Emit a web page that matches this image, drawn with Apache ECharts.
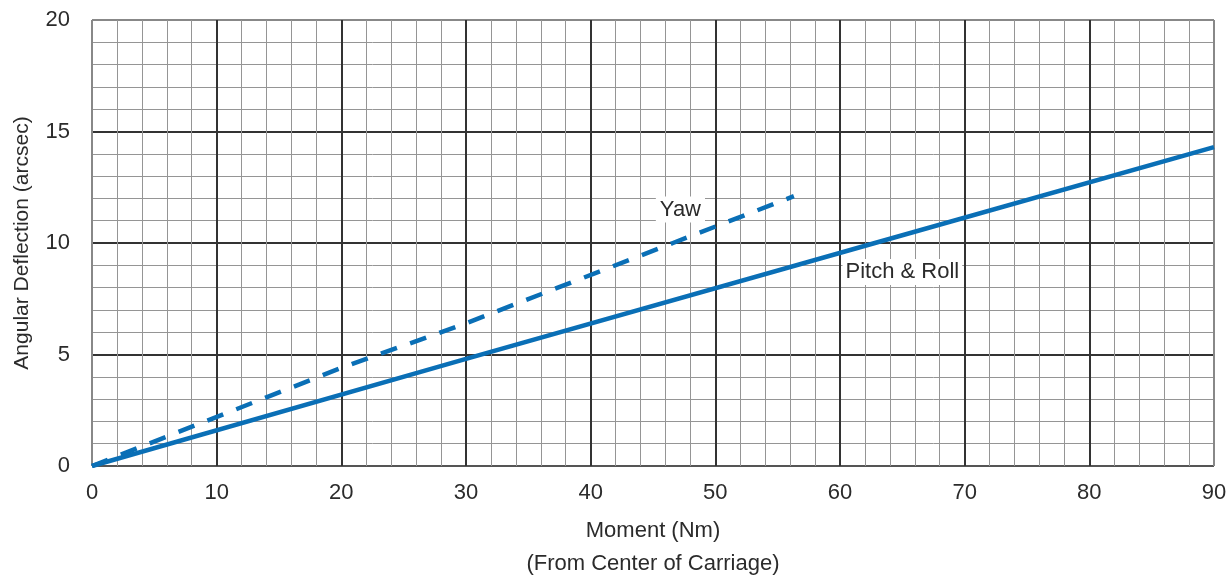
<!DOCTYPE html>
<html>
<head>
<meta charset="utf-8">
<script src="https://cdn.jsdelivr.net/npm/echarts@6/dist/echarts.min.js"></script>
<style>
html,body{margin:0;padding:0;background:#fff;}
#chart{width:1230px;height:581px;}
</style>
</head>
<body>
<div id="chart"></div>
<script>
const xTicks = [0,10,20,30,40,50,60,70,80,90];
const yTicks = [0,5,10,15,20];
const pitchRoll = [[0,0],[30,4.8],[62.8,10],[90,14.3]];
const yaw = [[0,0],[20,4.4],[30,6.4],[46.6,10],[56.3,12.1]];
const yawLabelPos = [47.2,11.5];
const pitchLabelPos = [65,8.7];
const xName = 'Moment (Nm)\n(From Center of Carriage)';
const yName = 'Angular Deflection (arcsec)';

const FONT = "'Liberation Sans Narrow','Arial Narrow','Liberation Sans',Arial,sans-serif";
const BLUE = '#0a6fb6';
const TXT = '#2b2b2b';
const chart = echarts.init(document.getElementById('chart'));
chart.setOption({
  animation:false,
  grid:{left:92,right:16,top:20,bottom:115,show:false,containLabel:false,outerBoundsMode:'none'},
  xAxis:{
    type:'value',min:xTicks[0],max:xTicks[xTicks.length-1],interval:10,
    name:xName,nameLocation:'middle',nameGap:48,
    nameTextStyle:{fontFamily:FONT,fontSize:22,color:TXT,lineHeight:33},
    axisLine:{show:false},
    axisTick:{show:false},
    axisLabel:{fontFamily:FONT,fontSize:22,color:TXT,margin:16},
    splitLine:{show:true,lineStyle:{color:['#888','#333','#333','#333','#333','#333','#333','#333','#333','#888'],width:2}},
    minorTick:{show:false,splitNumber:5},
    minorSplitLine:{show:true,lineStyle:{color:'#959595',width:1}}
  },
  yAxis:{
    type:'value',min:yTicks[0],max:yTicks[yTicks.length-1],interval:5,
    name:yName,nameLocation:'middle',nameGap:59,
    nameTextStyle:{fontFamily:FONT,fontSize:21,color:TXT},
    axisLine:{show:false},
    axisTick:{show:false},
    axisLabel:{fontFamily:FONT,fontSize:22,color:TXT,margin:22},
    splitLine:{show:true,lineStyle:{color:['#555','#333','#333','#333','#888'],width:2}},
    minorTick:{show:false,splitNumber:5},
    minorSplitLine:{show:true,lineStyle:{color:'#959595',width:1}}
  },
  series:[
    {
      name:'Pitch & Roll',type:'line',data:pitchRoll,symbol:'none',
      lineStyle:{color:BLUE,width:4.5},z:5,
      markPoint:{symbol:'rect',symbolSize:1,itemStyle:{color:'rgba(0,0,0,0)'},
        label:{show:true,position:'inside',formatter:'Pitch & Roll',fontFamily:FONT,fontSize:22,color:TXT,
          backgroundColor:'#fff',padding:[2,3]},
        data:[{coord:pitchLabelPos}]}
    },
    {
      name:'Yaw',type:'line',data:yaw,symbol:'none',
      lineStyle:{color:BLUE,width:4.5,type:[17,14]},z:5,
      markPoint:{symbol:'rect',symbolSize:1,itemStyle:{color:'rgba(0,0,0,0)'},
        label:{show:true,position:'inside',formatter:'Yaw',fontFamily:FONT,fontSize:22,color:TXT,
          backgroundColor:'#fff',padding:[2,4]},
        data:[{coord:yawLabelPos}]}
    }
  ]
});
</script>
</body>
</html>
